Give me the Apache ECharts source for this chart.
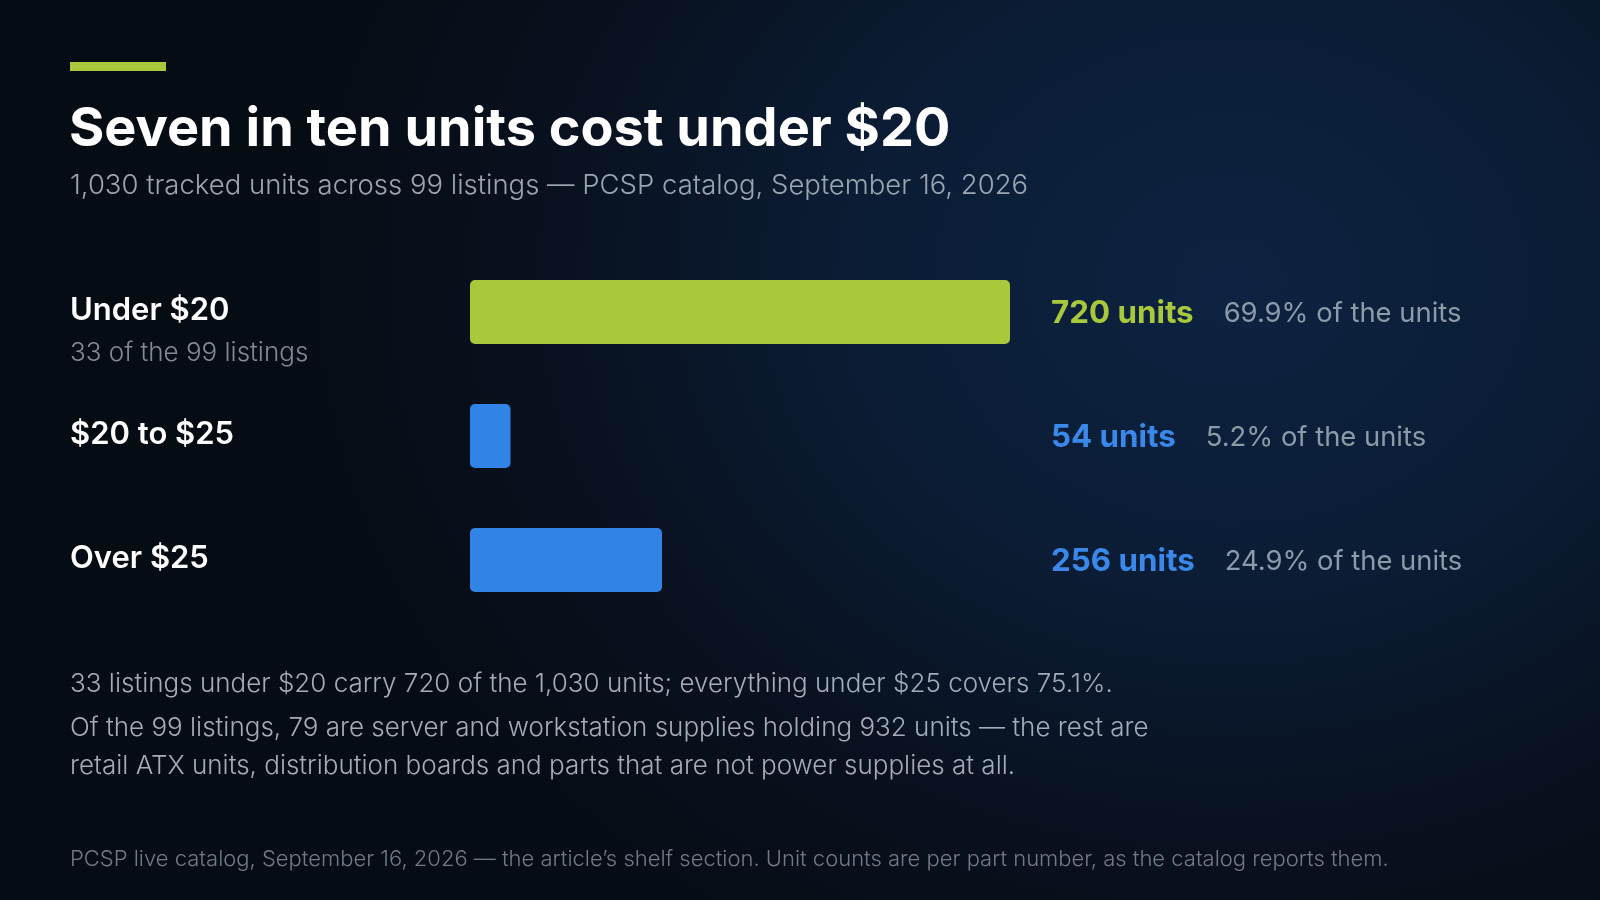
<!DOCTYPE html>
<html lang="en">
<head>
    <meta charset="UTF-8">
    <title>Seven in ten units cost under $20</title>
    <script src="https://cdn.jsdelivr.net/npm/echarts@6/dist/echarts.min.js"></script>
    <style>
        html, body { margin: 0; padding: 0; }
        body {
            width: 1600px;
            height: 900px;
            overflow: hidden;
            background-color: #060c14;
            background-image: radial-gradient(ellipse 950px 780px at 1230px 280px, #0d2341 0%, #0b1c34 40%, #08111f 72%, #060c14 100%);
        }
        #main { width: 1600px; height: 900px; }
    </style>
</head>
<body>
    <div id="main"></div>
    <script>
        // price bands, top to bottom
        var categories = ['Under $20', '$20 to $25', 'Over $25'];
        var listingNotes = ['33 of the 99 listings', '', ''];
        var units = [720, 54, 256];
        var shares = ['69.9%', '5.2%', '24.9%'];
        var barColors = ['#A9C93D', '#3184E6', '#3184E6'];

        var FONT = 'Inter, "Noto Sans", sans-serif';

        var chart = echarts.init(document.getElementById('main'));

        var option = {
            backgroundColor: 'transparent',
            animation: false,
            grid: {
                left: 470,
                right: 590,
                top: 250,
                bottom: 278
            },
            xAxis: {
                type: 'value',
                min: 0,
                max: 720,
                show: false
            },
            yAxis: [{
                type: 'category',
                data: categories,
                inverse: true,
                position: 'left',
                axisLine: { show: false },
                axisTick: { show: false },
                splitLine: { show: false },
                axisLabel: {
                    margin: 400,
                    align: 'left',
                    formatter: function (value, idx) {
                        var sub = listingNotes[idx] || ' ';
                        return '{name|' + value + '}\n{sub|' + sub + '}';
                    },
                    rich: {
                        name: {
                            fontFamily: FONT,
                            fontSize: 31,
                            fontWeight: 600,
                            color: '#ffffff',
                            lineHeight: 83
                        },
                        sub: {
                            fontFamily: FONT,
                            fontSize: 26,
                            fontWeight: 300,
                            color: '#7f8b98',
                            lineHeight: 2
                        }
                    }
                }
            }, {
                type: 'category',
                data: categories,
                inverse: true,
                position: 'right',
                axisLine: { show: false },
                axisTick: { show: false },
                splitLine: { show: false },
                axisLabel: {
                    margin: 41,
                    align: 'left',
                    padding: [4, 0, 0, 0],
                    formatter: function (value, idx) {
                        var tag = idx === 0 ? 'vg' : 'vb';
                        return '{' + tag + '|' + units[idx] + ' units}{p|' + shares[idx] + ' of the units}';
                    },
                    rich: {
                        vg: {
                            fontFamily: FONT,
                            fontSize: 31.3,
                            fontWeight: 700,
                            color: barColors[0]
                        },
                        vb: {
                            fontFamily: FONT,
                            fontSize: 31.3,
                            fontWeight: 700,
                            color: '#3A88EA'
                        },
                        p: {
                            fontFamily: FONT,
                            fontSize: 27.4,
                            fontWeight: 400,
                            color: '#8d9aa9',
                            padding: [0, 0, 0, 30]
                        }
                    }
                }
            }],
            series: [{
                type: 'bar',
                yAxisIndex: 0,
                barWidth: 64,
                data: units.map(function (v, i) {
                    return {
                        value: v,
                        itemStyle: { color: barColors[i] }
                    };
                }),
                itemStyle: {
                    borderRadius: 5
                },
                silent: true
            }],
            graphic: [{
                type: 'rect',
                shape: { x: 70, y: 62, width: 96, height: 9 },
                style: { fill: '#A9C93D' }
            }, {
                type: 'text',
                style: {
                    x: 69, y: 130,
                    text: 'Seven in ten units cost under $20',
                    fontFamily: FONT, fontSize: 54, fontWeight: 700,
                    fill: '#ffffff',
                    verticalAlign: 'middle'
                }
            }, {
                type: 'text',
                style: {
                    x: 70, y: 186,
                    text: '1,030 tracked units across 99 listings \u2014 PCSP catalog, September 16, 2026',
                    fontFamily: FONT, fontSize: 27.5, fontWeight: 300,
                    fill: '#9aa5b2',
                    verticalAlign: 'middle'
                }
            }, {
                type: 'text',
                style: {
                    x: 70, y: 684,
                    text: '33 listings under $20 carry 720 of the 1,030 units; everything under $25 covers 75.1%.',
                    fontFamily: FONT, fontSize: 26, fontWeight: 300,
                    fill: '#a3adb9',
                    verticalAlign: 'middle'
                }
            }, {
                type: 'text',
                style: {
                    x: 70, y: 728,
                    text: 'Of the 99 listings, 79 are server and workstation supplies holding 932 units \u2014 the rest are',
                    fontFamily: FONT, fontSize: 26, fontWeight: 300,
                    fill: '#a3adb9',
                    verticalAlign: 'middle'
                }
            }, {
                type: 'text',
                style: {
                    x: 70, y: 766,
                    text: 'retail ATX units, distribution boards and parts that are not power supplies at all.',
                    fontFamily: FONT, fontSize: 26, fontWeight: 300,
                    fill: '#a3adb9',
                    verticalAlign: 'middle'
                }
            }, {
                type: 'text',
                style: {
                    x: 70, y: 859,
                    text: 'PCSP live catalog, September 16, 2026 \u2014 the article\u2019s shelf section. Unit counts are per part number, as the catalog reports them.',
                    fontFamily: FONT, fontSize: 22, fontWeight: 300,
                    fill: '#6f7b89',
                    verticalAlign: 'middle'
                }
            }]
        };

        chart.setOption(option);
    </script>
</body>
</html>
